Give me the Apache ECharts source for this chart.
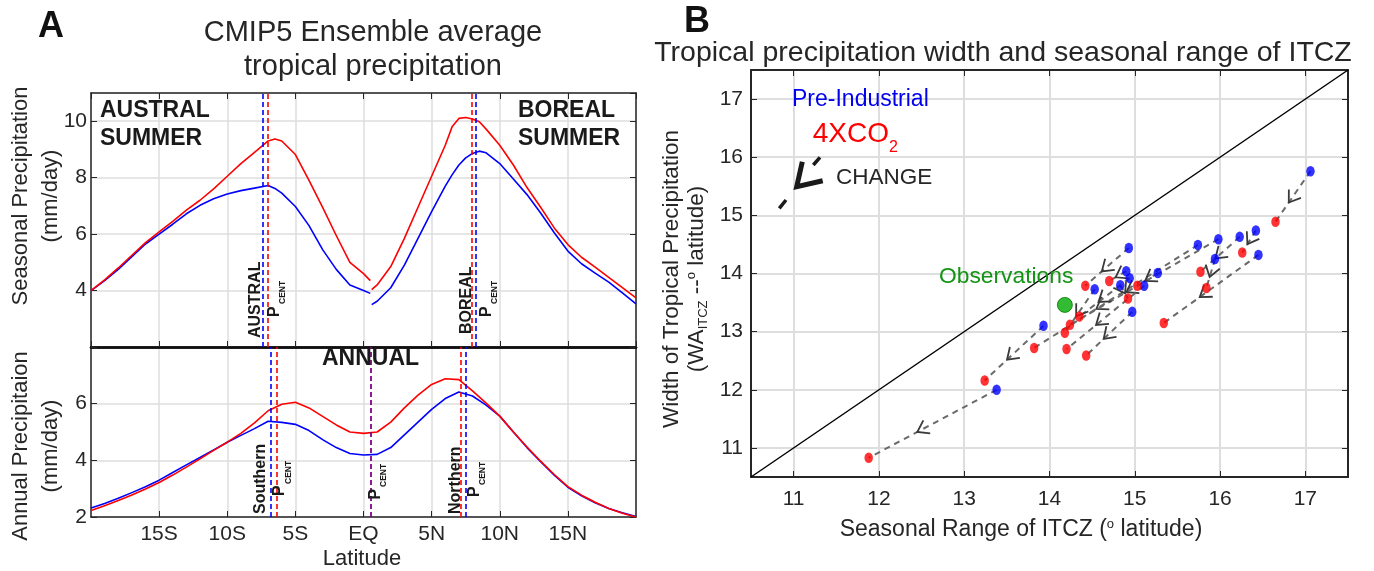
<!DOCTYPE html>
<html><head><meta charset="utf-8">
<script src="https://cdn.jsdelivr.net/npm/echarts@6/dist/echarts.min.js"></script>
<style>html,body{margin:0;padding:0;background:#fff}#c{width:1374px;height:571px}</style>
</head><body><div id="c"></div>
<script>
// ---------------- Panel A data ----------------
const latTicks = [-15, -10, -5, 0, 5, 10, 15];
const latTickLabels = ['15S', '10S', '5S', 'EQ', '5N', '10N', '15N'];

// Seasonal: austral summer branch (south of ~0.5N)
const seasLatS = [-20,-19,-18,-17,-16,-15,-14,-13,-12,-11,-10,-9,-8,-7,-6.5,-6,-5,-4,-3,-2,-1,0,0.5];
const seasPI_S  = [4.00,4.35,4.75,5.20,5.65,6.00,6.35,6.72,7.02,7.25,7.42,7.54,7.63,7.72,7.62,7.45,6.98,6.30,5.45,4.75,4.20,4.00,3.90];
const seasCO2_S = [4.00,4.38,4.80,5.25,5.70,6.08,6.45,6.85,7.20,7.60,8.05,8.50,8.90,9.30,9.37,9.30,8.82,7.90,6.95,5.95,5.00,4.60,4.35];
// Seasonal: boreal summer branch
const seasLatN = [0.6,1,2,3,4,5,6,6.5,7,7.5,8,8.5,9,10,11,12,13,14,15,16,17,18,19,20];
const seasPI_N  = [3.50,3.62,4.10,4.90,5.85,6.80,7.70,8.10,8.45,8.70,8.86,8.94,8.88,8.50,7.95,7.40,6.75,6.05,5.40,4.95,4.62,4.30,3.92,3.53];
const seasCO2_N = [4.03,4.20,4.85,5.85,6.95,8.05,9.15,9.80,10.10,10.13,10.08,9.98,9.72,9.15,8.45,7.65,6.95,6.22,5.63,5.18,4.83,4.47,4.10,3.74];
// Annual
const annLat = [-20,-19,-18,-17,-16,-15,-14,-13,-12,-11,-10,-9,-8,-7,-6,-5,-4,-3,-2,-1,0,1,2,3,4,5,6,7,8,9,10,11,12,13,14,15,16,17,18,19,20];
const annPI  = [2.32,2.48,2.66,2.86,3.07,3.30,3.57,3.84,4.10,4.37,4.64,4.88,5.12,5.38,5.34,5.27,5.05,4.73,4.45,4.24,4.19,4.21,4.45,4.90,5.35,5.80,6.18,6.41,6.27,5.95,5.56,5.00,4.45,3.95,3.48,3.05,2.75,2.50,2.30,2.15,2.02];
const annCO2 = [2.23,2.40,2.58,2.78,2.99,3.22,3.48,3.76,4.05,4.35,4.64,4.95,5.32,5.75,5.98,6.05,5.85,5.55,5.25,5.00,4.95,5.00,5.35,5.85,6.30,6.68,6.88,6.85,6.45,6.02,5.56,5.00,4.47,3.97,3.50,3.07,2.77,2.52,2.30,2.13,2.00];
// Precipitation centroids (latitude)
const seasCentPI  = [-7.4, 8.26];
const seasCentCO2 = [-7.0, 7.94];
const annCentPI   = [-6.83, 0.52, 7.47];
const annCentCO2  = [-6.34, 0.52, 7.15];

// ---------------- Panel B data ----------------
const piX  = [17.06,16.42,16.23,15.94,16.45,13.38,13.93,14.97,15.74,15.98,14.93,14.90,14.83,15.11,14.94,14.53,15.27];
const piY  = [15.76,14.74,14.63,14.25,14.32,12.00,13.10,13.34,14.49,14.59,14.44,14.04,13.80,13.79,13.92,13.73,14.01];
const co2X = [16.65,16.26,15.77,15.84,15.34,11.88,13.24,14.43,13.82,14.24,14.42,14.70,14.92,14.20,14.35,14.18,15.03];
const co2Y = [14.89,14.36,14.03,13.75,13.15,10.83,12.16,12.59,12.72,13.12,13.79,13.87,13.57,12.70,13.26,12.98,13.79];
const obsXY = [14.18, 13.46];
const oneToOne = [10.5, 17.5];

// ---------------- helpers ----------------
const FONT = 'Liberation Sans, Arial, Helvetica, sans-serif';
const DARK = '#262626';
const GRID = '#dedede';
function zip(xs, ys){ return xs.map((x,i)=>[x, ys[i]]); }
function latFmt(v){
  for (let i=0;i<latTicks.length;i++) if (Math.abs(v-latTicks[i])<1e-6) return latTickLabels[i];
  return '';
}
function intFmt(v){ return Math.abs(v-Math.round(v))<1e-9 ? String(Math.round(v)) : ''; }

function baseX(grid, opts){
  return Object.assign({
    type:'value', gridIndex:grid, min:-20, max:20, interval:5,
    axisLine:{show:true, onZero:false, lineStyle:{color:DARK, width:1.5}},
    axisTick:{show:true, inside:true, length:6, lineStyle:{color:DARK, width:1}},
    axisLabel:{show:false},
    splitLine:{show:false}
  }, opts||{});
}
function baseY(grid, opts){
  return Object.assign({
    type:'value', gridIndex:grid,
    axisLine:{show:true, onZero:false, lineStyle:{color:DARK, width:1.5}},
    axisTick:{show:true, inside:true, length:6, lineStyle:{color:DARK, width:1}},
    axisLabel:{show:false},
    splitLine:{show:false}
  }, opts||{});
}
const tickFont = {fontFamily:FONT, fontSize:21, color:DARK};

const chart = echarts.init(document.getElementById('c'));

function cline(color, dataCent, extra){
  return {
    silent:true, symbol:['none','none'], label:{show:false},
    lineStyle:{color:color, type:[5,3], width:1.6},
    data: dataCent.map((v,i)=>{
      const o = {xAxis:v};
      if (extra && extra[i]) o.lineStyle = extra[i];
      return o;
    })
  };
}

function lineSeries(name, data, color, xi, yi, ml){
  return {
    name, type:'line', xAxisIndex:xi, yAxisIndex:yi, data,
    showSymbol:false, symbol:'none', smooth:false,
    lineStyle:{color, width:1.6, join:'round'}, itemStyle:{color}, silent:true,
    markLine: ml, z:3, animation:false
  };
}

function T(x, y, text, o){
  o = o || {};
  return {
    type:'text', x, y, rotation:o.rot||0, z:100, silent:true,
    style:{
      text, fill:o.color||DARK,
      font:(o.bold?'bold ':'')+(o.size||21)+'px '+FONT,
      align:o.align||'center', verticalAlign:o.va||'middle',
      rich:o.rich
    }
  };
}
const R90 = Math.PI/2;
const LBL = '#1a1a1a';

const arrowSeries = {
  type:'custom', xAxisIndex:4, yAxisIndex:4, silent:true, z:2, animation:false,
  data: piX.map((x,i)=>[x, piY[i], co2X[i], co2Y[i]]),
  encode:{x:[0,2], y:[1,3]},
  renderItem(params, api){
    const p1 = api.coord([api.value(0), api.value(1)]);
    const p2 = api.coord([api.value(2), api.value(3)]);
    const dx = p2[0]-p1[0], dy = p2[1]-p1[1];
    const L = Math.sqrt(dx*dx+dy*dy) || 1;
    const ux = dx/L, uy = dy/L;
    const t = 0.62;
    const tip = [p1[0]+dx*t, p1[1]+dy*t];
    const a = 0.6, len = 13;
    const ca = Math.cos(a), sa = Math.sin(a);
    const bx = -ux, by = -uy;
    const a1 = [tip[0]+len*(bx*ca - by*sa), tip[1]+len*(bx*sa + by*ca)];
    const a2 = [tip[0]+len*(bx*ca + by*sa), tip[1]+len*(-bx*sa + by*ca)];
    return {type:'group', children:[
      {type:'line', shape:{x1:p1[0], y1:p1[1], x2:p2[0], y2:p2[1]},
       style:{stroke:'#6a6a6a', lineWidth:2, lineDash:[6,5]}},
      {type:'polyline', shape:{points:[a1, tip, a2]},
       style:{stroke:'#3a3a3a', lineWidth:1.8, fill:null}}
    ]};
  }
};

const option = {
  backgroundColor:'#fff',
  animation:false,
  grid:[
    {left:91, top:93, width:545, height:254},
    {left:91, top:347, width:545, height:170},
    {left:751, top:70, width:597, height:407}
  ],
  xAxis:[
    baseX(0, {splitLine:{show:true, lineStyle:{color:GRID, width:1.5}}, axisLine:{show:true,onZero:false,lineStyle:{color:'#111', width:2.5}}}),
    baseX(1, {axisLabel:{show:true, formatter:latFmt, margin:7, showMinLabel:false, showMaxLabel:false, ...tickFont},
              splitLine:{show:true, lineStyle:{color:GRID, width:1.5}}}),
    baseX(0, {position:'top'}),
    baseX(1, {position:'top', axisTick:{show:false}, axisLine:{show:true,onZero:false,lineStyle:{color:'#111', width:2.5}}}),
    baseX(2, {min:oneToOne[0], max:oneToOne[1], interval:undefined, splitNumber:7, minInterval:1, maxInterval:1,
              axisLabel:{show:true, formatter:intFmt, margin:12, showMinLabel:false, showMaxLabel:false, ...tickFont},
              axisLine:{show:true,onZero:false,lineStyle:{color:DARK, width:2}},
              splitLine:{show:true, lineStyle:{color:GRID, width:2}}}),
    baseX(2, {position:'top', min:oneToOne[0], max:oneToOne[1], interval:undefined, splitNumber:7, minInterval:1, maxInterval:1,
              axisLine:{show:true,onZero:false,lineStyle:{color:DARK, width:2}}})
  ],
  yAxis:[
    baseY(0, {min:2, max:11, interval:2,
              axisLabel:{show:true, margin:4, formatter:v=>(v>=4&&v<=10&&v%2===0)?String(v):'', showMaxLabel:false, ...tickFont},
              splitLine:{show:true, lineStyle:{color:GRID, width:1.5}}}),
    baseY(1, {min:2, max:8, interval:2,
              axisLabel:{show:true, margin:4, formatter:v=>(v>=2&&v<=6)?String(v):'', ...tickFont},
              splitLine:{show:true, lineStyle:{color:GRID, width:1.5}}}),
    baseY(0, {position:'right', min:2, max:11, interval:2}),
    baseY(1, {position:'right', min:2, max:8, interval:2}),
    baseY(2, {min:oneToOne[0], max:oneToOne[1], splitNumber:7, minInterval:1, maxInterval:1,
              axisLabel:{show:true, margin:8, formatter:intFmt, showMinLabel:false, showMaxLabel:false, ...tickFont},
              axisLine:{show:true,onZero:false,lineStyle:{color:DARK, width:2}},
              splitLine:{show:true, lineStyle:{color:GRID, width:2}}}),
    baseY(2, {position:'right', min:oneToOne[0], max:oneToOne[1], splitNumber:7, minInterval:1, maxInterval:1,
              axisLine:{show:true,onZero:false,lineStyle:{color:DARK, width:2}}})
  ],
  series:[
    lineSeries('PI austral', zip(seasLatS, seasPI_S), '#0000ff', 0, 0, cline('#0000ff', seasCentPI)),
    lineSeries('PI boreal',  zip(seasLatN, seasPI_N), '#0000ff', 0, 0),
    lineSeries('CO2 austral', zip(seasLatS, seasCO2_S), '#ff0000', 0, 0, cline('#ff0000', seasCentCO2)),
    lineSeries('CO2 boreal',  zip(seasLatN, seasCO2_N), '#ff0000', 0, 0),
    lineSeries('PI annual', zip(annLat, annPI), '#0000ff', 1, 1, cline('#0000ff', annCentPI)),
    lineSeries('CO2 annual', zip(annLat, annCO2), '#ff0000', 1, 1,
               cline('#ff0000', annCentCO2, [null, {color:'#ff0000', opacity:0.55, type:[5,3], width:1.6}, null])),
    arrowSeries,
    {type:'line', xAxisIndex:4, yAxisIndex:4, data:oneToOne.map(v=>[v,v]), showSymbol:false, symbol:'none',
     lineStyle:{color:'#000', width:1.5}, silent:true, z:1},
    {type:'scatter', xAxisIndex:4, yAxisIndex:4, data:zip(piX, piY), symbol:'circle', symbolSize:[8.5,10.5],
     itemStyle:{color:'#0000ff'}, silent:true, z:4},
    {type:'scatter', xAxisIndex:4, yAxisIndex:4, data:zip(co2X, co2Y), symbol:'circle', symbolSize:[8.5,10.5],
     itemStyle:{color:'#ff0000'}, silent:true, z:5},
    {type:'scatter', xAxisIndex:4, yAxisIndex:4, data:[obsXY], symbol:'circle', symbolSize:15,
     itemStyle:{color:'#00aa00', borderColor:'#007a00', borderWidth:1}, silent:true, z:6}
  ],
  graphic:{elements:[
    T(51, 27, 'A', {bold:true, size:36, color:'#111'}),
    T(697, 22, 'B', {bold:true, size:36, color:'#111'}),
    T(373, 33, 'CMIP5 Ensemble average', {size:29}),
    T(373, 67, 'tropical precipitation', {size:29}),
    T(1003, 53, 'Tropical precipitation width and seasonal range of ITCZ', {size:28.5}),
    // Panel A axis names
    T(21, 196, 'Seasonal Precipitation', {rot:R90, size:22}),
    T(51, 196, '(mm/day)', {rot:R90, size:22}),
    T(21, 446, 'Annual Precipitaion', {rot:R90, size:22}),
    T(51, 446, '(mm/day)', {rot:R90, size:22}),
    T(362, 559, 'Latitude', {size:22}),
    // Panel A labels
    T(100, 111, 'AUSTRAL', {bold:true, size:23, align:'left', color:LBL}),
    T(100, 139, 'SUMMER', {bold:true, size:23, align:'left', color:LBL}),
    T(518, 111, 'BOREAL', {bold:true, size:23, align:'left', color:LBL}),
    T(518, 139, 'SUMMER', {bold:true, size:23, align:'left', color:LBL}),
    T(322, 359, 'ANNUAL', {bold:true, size:23, align:'left', color:LBL}),
    T(255.5, 338, 'AUSTRAL', {rot:R90, bold:true, size:16, align:'left', color:LBL}),
    T(275, 317, 'P', {rot:R90, bold:true, size:16, align:'left', color:LBL}),
    T(282.5, 304, 'CENT', {rot:R90, bold:true, size:8.5, align:'left', color:LBL}),
    T(466.3, 334, 'BOREAL', {rot:R90, bold:true, size:16, align:'left', color:LBL}),
    T(486.5, 317, 'P', {rot:R90, bold:true, size:16, align:'left', color:LBL}),
    T(494.5, 304, 'CENT', {rot:R90, bold:true, size:8.5, align:'left', color:LBL}),
    T(261, 514, 'Southern', {rot:R90, bold:true, size:16, align:'left', color:LBL}),
    T(280, 496, 'P', {rot:R90, bold:true, size:16, align:'left', color:LBL}),
    T(288.3, 484, 'CENT', {rot:R90, bold:true, size:8.5, align:'left', color:LBL}),
    T(376, 499.5, 'P', {rot:R90, bold:true, size:16, align:'left', color:LBL}),
    T(383.3, 487, 'CENT', {rot:R90, bold:true, size:8.5, align:'left', color:LBL}),
    T(455.5, 514, 'Northern', {rot:R90, bold:true, size:16, align:'left', color:LBL}),
    T(474.5, 497, 'P', {rot:R90, bold:true, size:16, align:'left', color:LBL}),
    T(483, 485, 'CENT', {rot:R90, bold:true, size:8.5, align:'left', color:LBL}),
    // Panel B annotations
    T(792, 100, 'Pre-Industrial', {size:23, align:'left', color:'#0000ee'}),
    T(889, 134, '4XCO', {size:28, align:'right', color:'#ff0000'}),
    T(889, 148, '2', {size:16, align:'left', color:'#ff0000'}),
    T(836, 178, 'CHANGE', {size:22.5, align:'left', color:'#262626'}),
    T(939, 277, 'Observations', {size:22.8, align:'left', color:'#149414'}),
    {type:'polyline', z:100, silent:true, shape:{points:[[802.3,161.7],[796.7,186.7],[822.7,180.7]]},
     style:{stroke:'#1a1a1a', lineWidth:5, fill:null, lineJoin:'miter'}},
    {type:'line', z:100, silent:true, shape:{x1:820, y1:157.3, x2:813.3, y2:165}, style:{stroke:'#1a1a1a', lineWidth:3.5}},
    {type:'line', z:100, silent:true, shape:{x1:786, y1:200, x2:779.3, y2:208.3}, style:{stroke:'#1a1a1a', lineWidth:3.5}},
    // Panel B axis names
    T(1021, 530, '{n|Seasonal Range of ITCZ (}{o|o}{n| latitude)}', {rich:{
        n:{fontSize:23, fontFamily:FONT, fill:DARK, color:DARK},
        o:{fontSize:13, fontFamily:FONT, fill:DARK, color:DARK, padding:[0,0,12,0]}}}),
    T(672, 279, 'Width of Tropical Precipitation', {rot:R90, size:22.5}),
    T(697, 279, '{n|(WA}{s|ITCZ}{n| --}{o|o}{n| latitude)}', {rot:R90, rich:{
        n:{fontSize:22.5, fontFamily:FONT, fill:DARK, color:DARK},
        s:{fontSize:13, fontFamily:FONT, fill:DARK, color:DARK, padding:[12,0,0,0]},
        o:{fontSize:13, fontFamily:FONT, fill:DARK, color:DARK, padding:[0,0,12,0]}}})
  ]}
};
chart.setOption(option);
</script>
</body></html>
